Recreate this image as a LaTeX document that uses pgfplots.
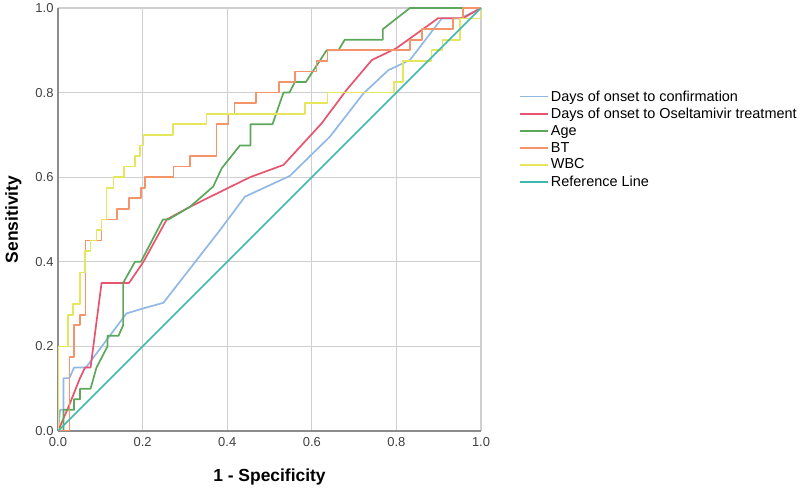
\documentclass[border=0pt]{standalone}
\usepackage{fontspec}
\setmainfont{Liberation Sans}
\usepackage{pgfplots}
\pgfplotsset{compat=1.18}

\definecolor{cBlue}{HTML}{92B8E6}
\definecolor{cRed}{HTML}{E8546E}
\definecolor{cGreen}{HTML}{5BA85B}
\definecolor{cOrange}{HTML}{F5936A}
\definecolor{cYellow}{HTML}{E6E65A}
\definecolor{cTeal}{HTML}{40B8B0}
\definecolor{cGrid}{HTML}{CFCFCF}
\definecolor{cAxis}{HTML}{8C8C8C}

\begin{document}
\begin{tikzpicture}
\useasboundingbox (-58bp,-57bp) rectangle (742bp,431bp);
\begin{axis}[
    scale only axis,
    width=423bp, height=423bp,
    xmin=0, xmax=1, ymin=0, ymax=1,
    xtick={0,0.2,...,1.0}, ytick={0,0.2,...,1.0},
    /pgf/number format/assume math mode=true,
    /pgf/number format/.cd, fixed, fixed zerofill, precision=1, /pgfplots/.cd,
    tick label style={font=\fontsize{13}{15}\selectfont, text=black!75},
    x tick label style={yshift=-3bp},
    y tick label style={xshift=-1bp},
    major tick length=0pt,
    grid=major,
    grid style={cGrid, line width=1.1bp},
    axis x line*=bottom, axis y line*=left,
    axis line style={cAxis, line width=1.4bp},
    xlabel={\textbf{1 - Specificity}},
    ylabel={\textbf{Sensitivity}},
    label style={font=\fontsize{17.5}{19}\selectfont},
    xlabel style={at={(axis description cs:0.5,0)}, anchor=north, yshift=-34bp},
    ylabel style={at={(axis description cs:0,0.5)}, anchor=south, yshift=33bp},
    legend style={at={(axis description cs:1.090,0.810)}, anchor=north west,
        draw=none, fill=none, font=\fontsize{14.5}{17}\selectfont,
        row sep=1.4bp, inner sep=0pt},
    legend cell align=left,
    legend image code/.code={\draw[#1, line width=1.7bp] (-6bp,0bp) -- (22bp,0bp);},
    every axis plot/.append style={line width=1.7bp, line join=round},
]

% Days of onset to confirmation
\addplot[cBlue] coordinates {
 (0,0) (0.005,0.05) (0.013,0.05) (0.013,0.125) (0.027,0.125) (0.038,0.15)
 (0.066,0.15) (0.162,0.278) (0.202,0.29) (0.249,0.303) (0.288,0.353)
 (0.383,0.475) (0.442,0.554) (0.548,0.603) (0.643,0.696) (0.722,0.798)
 (0.781,0.853) (0.832,0.877) (0.907,0.975) (0.95,0.975) (1,1)
};
\addlegendentry{Days of onset to confirmation}

% Days of onset to Oseltamivir treatment
\addplot[cRed] coordinates {
 (0,0) (0.024,0.055) (0.052,0.125) (0.064,0.15) (0.077,0.15) (0.103,0.35)
 (0.168,0.35) (0.202,0.40) (0.257,0.50) (0.312,0.53) (0.399,0.573)
 (0.454,0.60) (0.533,0.629) (0.623,0.727) (0.682,0.806) (0.742,0.877)
 (0.80,0.905) (0.899,0.976) (0.958,0.976) (1,1)
};
\addlegendentry{Days of onset to Oseltamivir treatment}

% Age
\addplot[cGreen] coordinates {
 (0,0) (0.013,0) (0.013,0.05) (0.038,0.05) (0.038,0.075) (0.052,0.075)
 (0.052,0.10) (0.077,0.10) (0.091,0.15) (0.117,0.20) (0.117,0.225)
 (0.143,0.225) (0.154,0.25) (0.154,0.35) (0.182,0.40) (0.196,0.40)
 (0.248,0.50) (0.261,0.50) (0.312,0.53) (0.367,0.578) (0.387,0.621)
 (0.43,0.675) (0.455,0.675) (0.455,0.725) (0.507,0.725) (0.533,0.80)
 (0.547,0.80) (0.56,0.825) (0.586,0.825) (0.635,0.90) (0.663,0.90)
 (0.678,0.925) (0.768,0.925) (0.768,0.95) (0.80,0.975) (0.832,1) (1,1)
};
\addlegendentry{Age}

% BT
\addplot[cOrange] coordinates {
 (0,0) (0.027,0) (0.027,0.175) (0.038,0.175) (0.038,0.25) (0.052,0.25)
 (0.052,0.275) (0.065,0.275) (0.065,0.45) (0.103,0.45) (0.103,0.50)
 (0.139,0.50) (0.139,0.525) (0.168,0.525) (0.168,0.55) (0.196,0.55)
 (0.196,0.575) (0.206,0.575) (0.206,0.60) (0.273,0.60) (0.273,0.625)
 (0.312,0.625) (0.312,0.65) (0.375,0.65) (0.375,0.725) (0.403,0.725)
 (0.403,0.75) (0.417,0.75) (0.417,0.775) (0.468,0.775) (0.468,0.80)
 (0.523,0.80) (0.523,0.825) (0.56,0.825) (0.56,0.85) (0.611,0.85)
 (0.611,0.875) (0.637,0.875) (0.637,0.90) (0.832,0.90) (0.832,0.925)
 (0.86,0.925) (0.86,0.95) (0.934,0.95) (0.934,0.975) (0.958,0.975)
 (0.958,1) (1,1)
};
\addlegendentry{BT}

% WBC
\addplot[cYellow] coordinates {
 (0,0) (0,0.2) (0.024,0.2) (0.024,0.275) (0.036,0.275) (0.036,0.30)
 (0.052,0.30) (0.052,0.375) (0.064,0.375) (0.064,0.425) (0.077,0.425)
 (0.077,0.45) (0.091,0.45) (0.091,0.475) (0.103,0.475) (0.103,0.50)
 (0.115,0.50) (0.115,0.575) (0.131,0.575) (0.131,0.60) (0.156,0.60)
 (0.156,0.625) (0.182,0.625) (0.182,0.65) (0.194,0.65) (0.194,0.675)
 (0.202,0.675) (0.202,0.70) (0.272,0.70) (0.272,0.725) (0.351,0.725)
 (0.351,0.75) (0.584,0.75) (0.584,0.775) (0.637,0.775) (0.637,0.80)
 (0.794,0.80) (0.794,0.825) (0.815,0.825) (0.815,0.875) (0.883,0.875)
 (0.883,0.90) (0.909,0.90) (0.909,0.925) (0.95,0.925) (0.95,0.975)
 (1,0.975) (1,1)
};
\addlegendentry{WBC}

% Reference Line
\addplot[cTeal] coordinates {(0,0) (1,1)};
\addlegendentry{Reference Line}

\end{axis}
\end{tikzpicture}
\end{document}
